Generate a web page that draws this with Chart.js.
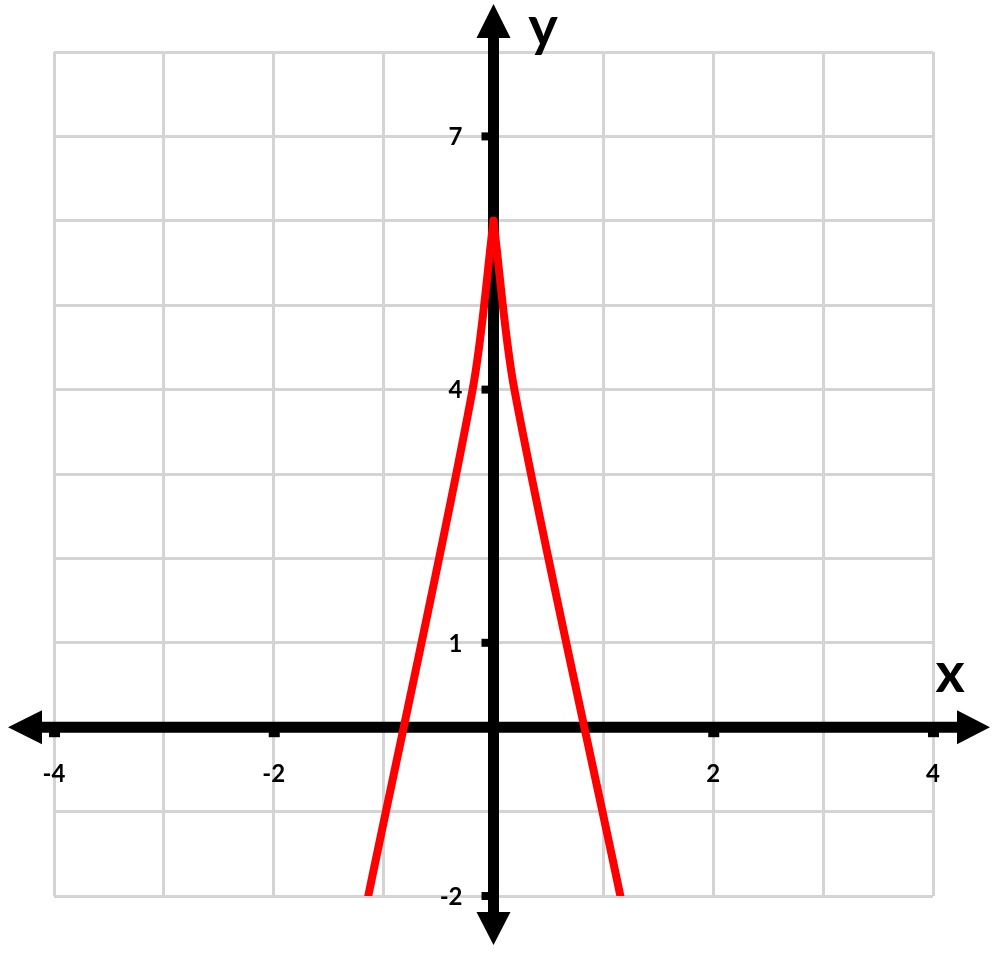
<!DOCTYPE html>
<html lang="en">
<head>
    <meta charset="UTF-8">
    <title>Absolute value graph</title>
    <script src="https://cdn.jsdelivr.net/npm/chart.js"></script>
    <style>
        html, body { margin: 0; padding: 0; background: #fff; }
        #wrap { width: 1000px; height: 955px; }
    </style>
</head>
<body>
<div id="wrap"><canvas id="graph"></canvas></div>
<script>
    // Red V graph; both branches meet at the vertex (0, 6)
    const leftX = [-1.14, -0.19, 0];
    const leftY = [-2, 4, 6];
    const rightX = [0, 0.19, 1.155];
    const rightY = [6, 4, -2];

    // axis ranges and labelled ticks
    const xRange = [-4, 4];
    const yRange = [-2, 8];
    const xTickLabels = [-4, -2, 2, 4];
    const yTickLabels = [7, 4, 1, -2];

    const labelFont = 'bold 24px Lato, "Open Sans", sans-serif';
    const axisNameFont = 'bold 56px Lato, "Open Sans", sans-serif';

    // draws the black axes with arrows, tick marks and labels
    const axesPlugin = {
        id: 'axesPlugin',
        beforeDatasetsDraw(chart) {
            const ctx = chart.ctx;
            const xs = chart.scales.x;
            const ys = chart.scales.y;
            const ox = xs.getPixelForValue(0);
            const oy = ys.getPixelForValue(0);
            const W = chart.width, H = chart.height;

            ctx.save();
            ctx.fillStyle = '#000';
            ctx.strokeStyle = '#000';
            ctx.lineWidth = 11;

            // axis lines
            ctx.beginPath();
            ctx.moveTo(40, oy);
            ctx.lineTo(W - 40, oy);
            ctx.moveTo(ox, 36);
            ctx.lineTo(ox, H - 40);
            ctx.stroke();

            // arrow heads
            ctx.beginPath();
            ctx.moveTo(8, oy); ctx.lineTo(42, oy - 17); ctx.lineTo(42, oy + 17); ctx.closePath();
            ctx.moveTo(W - 10, oy); ctx.lineTo(W - 43, oy - 17); ctx.lineTo(W - 43, oy + 17); ctx.closePath();
            ctx.moveTo(ox, 4); ctx.lineTo(ox - 17, 38); ctx.lineTo(ox + 17, 38); ctx.closePath();
            ctx.moveTo(ox, H - 10); ctx.lineTo(ox - 17, H - 43); ctx.lineTo(ox + 17, H - 43); ctx.closePath();
            ctx.fill();

            // tick marks
            xTickLabels.forEach(v => {
                const px = xs.getPixelForValue(v);
                ctx.fillRect(px - 5, oy, 11, 10);
            });
            yTickLabels.forEach(v => {
                const py = ys.getPixelForValue(v);
                ctx.fillRect(ox - 12, py - 4, 8, 8);
            });

            // tick labels
            ctx.font = labelFont;
            ctx.textBaseline = 'middle';
            ctx.textAlign = 'center';
            xTickLabels.forEach(v => {
                ctx.fillText(String(v), xs.getPixelForValue(v), oy + 47);
            });
            ctx.textAlign = 'right';
            yTickLabels.forEach(v => {
                ctx.fillText(String(v), ox - 31, ys.getPixelForValue(v) + 1);
            });

            // axis names
            ctx.font = axisNameFont;
            ctx.textAlign = 'center';
            ctx.textBaseline = 'alphabetic';
            ctx.fillText('x', 950, oy - 35);
            ctx.fillText('y', 543, 46);
            ctx.restore();
        }
    };

    const toPoints = (xs, ys) => xs.map((x, i) => ({ x: x, y: ys[i] }));

    const branch = (xs, ys) => ({
        data: toPoints(xs, ys),
        showLine: true,
        borderColor: '#ff0000',
        borderWidth: 8,
        borderCapStyle: 'round',
        borderJoinStyle: 'round',
        pointRadius: 0,
        fill: false,
        tension: 0.3
    });

    new Chart(document.getElementById('graph'), {
        type: 'scatter',
        data: {
            datasets: [branch(leftX, leftY), branch(rightX, rightY)]
        },
        options: {
            responsive: true,
            maintainAspectRatio: false,
            animation: false,
            layout: { padding: { left: 54, right: 67, top: 52, bottom: 59 } },
            plugins: {
                legend: { display: false },
                tooltip: { enabled: false }
            },
            scales: {
                x: {
                    type: 'linear',
                    min: xRange[0],
                    max: xRange[1],
                    ticks: { display: false, stepSize: 1 },
                    grid: { color: '#d4d4d4', lineWidth: 3, drawTicks: false },
                    border: { display: false }
                },
                y: {
                    type: 'linear',
                    min: yRange[0],
                    max: yRange[1],
                    ticks: { display: false, stepSize: 1 },
                    grid: { color: '#d4d4d4', lineWidth: 3, drawTicks: false },
                    border: { display: false }
                }
            }
        },
        plugins: [axesPlugin]
    });
</script>
</body>
</html>
